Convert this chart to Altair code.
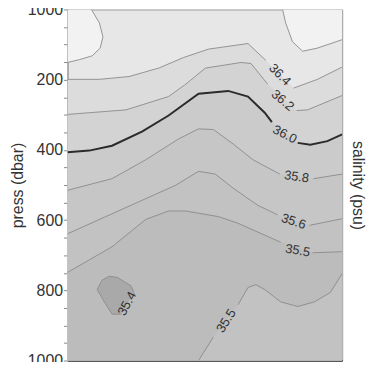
import altair as alt
import pandas as pd

# ---- contour lines (x along section 0-100, press in dbar); None = gap for label
c364_x = [0, 11.6, 22.4, 33.2, 42.2, 51.3, 65.7, 72.2, None, 82.3, 91.0, 100]
c364_p = [199, 199, 191, 167, 137, 113, 97, 145, None, 224, 199, 164]
c362_x = [0, 21.3, 36.8, 43.0, 50.2, 63.2, 66.8, 72.9, None, 83.4, 87.4, 100]
c362_p = [299, 286, 248, 213, 167, 151, 154, 213, None, 288, 286, 245]
c360_x = [0, 7.9, 16.2, 27.1, 36.8, 47.7, 58.5, 65.7, 71.8, 74.4, None, 83.8, 88.4, 94.6, 100]
c360_p = [407, 402, 388, 348, 302, 240, 232, 248, 294, 321, None, 380, 385, 375, 356]
c358_x = [0, 16.2, 28.5, 40.4, 47.7, 53.1, 60.3, 67.5, 77.3, None, 89.5, 100]
c358_p = [515, 482, 428, 369, 340, 342, 383, 428, 469, None, 482, 469]
c356_x = [0, 16.2, 39.3, 47.7, 53.8, 60.3, 69.3, 76.5, None, 88.1, 100]
c356_p = [639, 582, 501, 461, 469, 509, 558, 585, None, 615, 596]
c355_x = [0, 16.2, 28.5, 36.8, 43.0, 54.9, 62.1, 77.6, None, 89.2, 100]
c355_p = [749, 676, 598, 574, 574, 590, 609, 663, None, 693, 690]
c355b_x = [47.7, 53.1, None, 62.1, 65.7, 68.6, 71.8, 77.6, 83.8, 89.9, 95.7, 100]
c355b_p = [1000, 933, None, 841, 792, 784, 798, 833, 846, 833, 806, 752]

# closed/curved contour outlines
tl_line_x = [8.7, 11.6, 12.9, 11.9, 9.0, 4.3, 0]
tl_line_p = [0, 38, 78, 110, 132, 143, 151]
tr_line_x = [78.3, 79.4, 81.9, 85.6, 91.0, 100]
tr_line_p = [0, 38, 92, 119, 110, 86]
blob_line_x = [19.5, 16.2, 13.4, 10.8, 12.6, 15.2, 18.1, 23.1, 24.2]
blob_line_p = [868, 868, 833, 798, 771, 760, 763, 787, 806]

# filled regions (x, upper press, lower press)
tl_x = [0, 4.3, 8.7, 9.0, 11.6, 11.9, 12.9]
tl_top = [0, 0, 0, 5, 38, 48, 78]
tl_bot = [151, 143, 133, 132, 112, 110, 78]
tr_x = [78.3, 79.4, 81.9, 85.6, 91.0, 100]
tr_top = [0, 0, 0, 0, 0, 0]
tr_bot = [0, 38, 92, 119, 110, 86]
blob_x = [10.8, 12.6, 13.4, 15.2, 16.2, 18.1, 19.5, 23.1, 24.2]
blob_top = [798, 771, 768, 760, 761, 763, 770, 787, 806]
blob_bot = [798, 822, 833, 855, 868, 868, 868, 820, 806]

# contour labels
lab_text = ["36.4", "36.2", "36.0", "35.8", "35.6", "35.5", "35.4", "35.5"]
lab_x = [77.3, 78.3, 79.1, 83.4, 82.3, 83.8, 21.7, 57.8]
lab_p = [186, 259, 356, 477, 604, 687, 838, 887]
lab_angle = [45, 40, 27, 8, 18, 10, 298, 302]

# y axis ticks
y_ticks = list(range(0, 1001, 50))
y_major = [0, 200, 400, 600, 800, 1000]
y_major_labels = ["1000", "200", "400", "600", "800", "1000"]

FONT = "Liberation Sans"
W, H = 277, 354


def line_df(xs, ps):
    rows, seg, k = [], 0, 0
    for x, p in zip(xs, ps):
        if x is None:
            seg += 1
            continue
        rows.append({"x": x, "p": p, "seg": seg, "ord": k})
        k += 1
    return pd.DataFrame(rows)


def band_df(xs, ps):
    pts = [(x, p) for x, p in zip(xs, ps) if x is not None]
    return pd.DataFrame({"x": [a for a, _ in pts], "top": [b for _, b in pts],
                         "bot": [1000] * len(pts)})


yscale = alt.Scale(domain=[0, 1000], reverse=True, nice=False, zero=False)
xenc = alt.X("x:Q", scale=alt.Scale(domain=[0, 100], nice=False, zero=False),
             axis=alt.Axis(labels=False, ticks=False, grid=False, title=None,
                           domainColor="#333", domainWidth=1.5))

expr = "".join(
    f"datum.value === {v} ? '{t}' : " for v, t in zip(y_major, y_major_labels)
) + "''"

left_axis = alt.Axis(values=y_ticks, labelExpr=expr, labelOverlap=False, grid=False,
                     tickSize=4, tickColor="#888", domainColor="#999",
                     labelFontSize=16, labelColor="#333", labelPadding=1,
                     title="press (dbar)", titleFontSize=16, titleFontWeight="normal",
                     titleColor="#333", titleX=-50, titleBaseline="middle")
right_axis = alt.Axis(orient="right", labels=False, ticks=False, domain=False, grid=False,
                      title="salinity (psu)", titleFontSize=16, titleFontWeight="normal",
                      titleColor="#333", titleAngle=90, titleX=15, titleBaseline="middle")


def area_layer(df, color, axis=None):
    return alt.Chart(df).mark_area(color=color, clip=True, interpolate="linear").encode(
        x=xenc,
        y=alt.Y("top:Q", scale=yscale, axis=axis),
        y2="bot:Q",
    )


layers = []
layers.append(area_layer(pd.DataFrame({"x": tl_x, "top": tl_top, "bot": tl_bot}), "#f2f2f2", left_axis))
layers.append(area_layer(pd.DataFrame({"x": tr_x, "top": tr_top, "bot": tr_bot}), "#f2f2f2"))
band_colors = ["#dcdcdc", "#d3d3d3", "#cbcbcb", "#c6c6c6", "#c2c2c2", "#bcbcbc"]
for (xs, ps), col in zip([(c364_x, c364_p), (c362_x, c362_p), (c360_x, c360_p),
                          (c358_x, c358_p), (c356_x, c356_p), (c355_x, c355_p)], band_colors):
    layers.append(area_layer(band_df(xs, ps), col))
layers.append(area_layer(band_df(c355b_x, c355b_p), "#c2c2c2"))
layers.append(area_layer(pd.DataFrame({"x": blob_x, "top": blob_top, "bot": blob_bot}), "#a9a9a9"))

thin = []
for i, (xs, ps) in enumerate([(c364_x, c364_p), (c362_x, c362_p), (c358_x, c358_p),
                              (c356_x, c356_p), (c355_x, c355_p), (c355b_x, c355b_p),
                              (tl_line_x, tl_line_p), (tr_line_x, tr_line_p),
                              (blob_line_x, blob_line_p)]):
    d = line_df(xs, ps)
    d["seg"] = d["seg"] + 100 * i
    thin.append(d)
thin_df = pd.concat(thin, ignore_index=True)

layers.append(alt.Chart(thin_df).mark_line(color="#8a8a8a", strokeWidth=0.9, clip=True).encode(
    x=xenc, y=alt.Y("p:Q", scale=yscale, axis=None), detail="seg:N", order="ord:Q"))
layers.append(alt.Chart(line_df(c360_x, c360_p)).mark_line(color="#2b2b2b", strokeWidth=2, clip=True).encode(
    x=xenc, y=alt.Y("p:Q", scale=yscale, axis=right_axis), detail="seg:N", order="ord:Q"))

lab_df = pd.DataFrame({"x": lab_x, "p": lab_p, "t": lab_text, "a": lab_angle})
layers.append(alt.Chart(lab_df).mark_text(font=FONT, fontSize=13, color="#333").encode(
    x=xenc, y=alt.Y("p:Q", scale=yscale, axis=None), text="t:N",
    angle=alt.Angle("a:Q", scale=None)))

chart = alt.layer(*layers).resolve_scale(y="independent").properties(
    width=W, height=H,
    padding={"left": 60, "top": 0, "right": 25, "bottom": 0},
    autosize=alt.AutoSizeParams(type="none"),
).configure_view(fill="#e7e7e7", stroke="#999", strokeWidth=1).configure_axis(
    labelFont=FONT, titleFont=FONT)

chart.save("out.html", embed_options={"renderer": "svg", "actions": False})
